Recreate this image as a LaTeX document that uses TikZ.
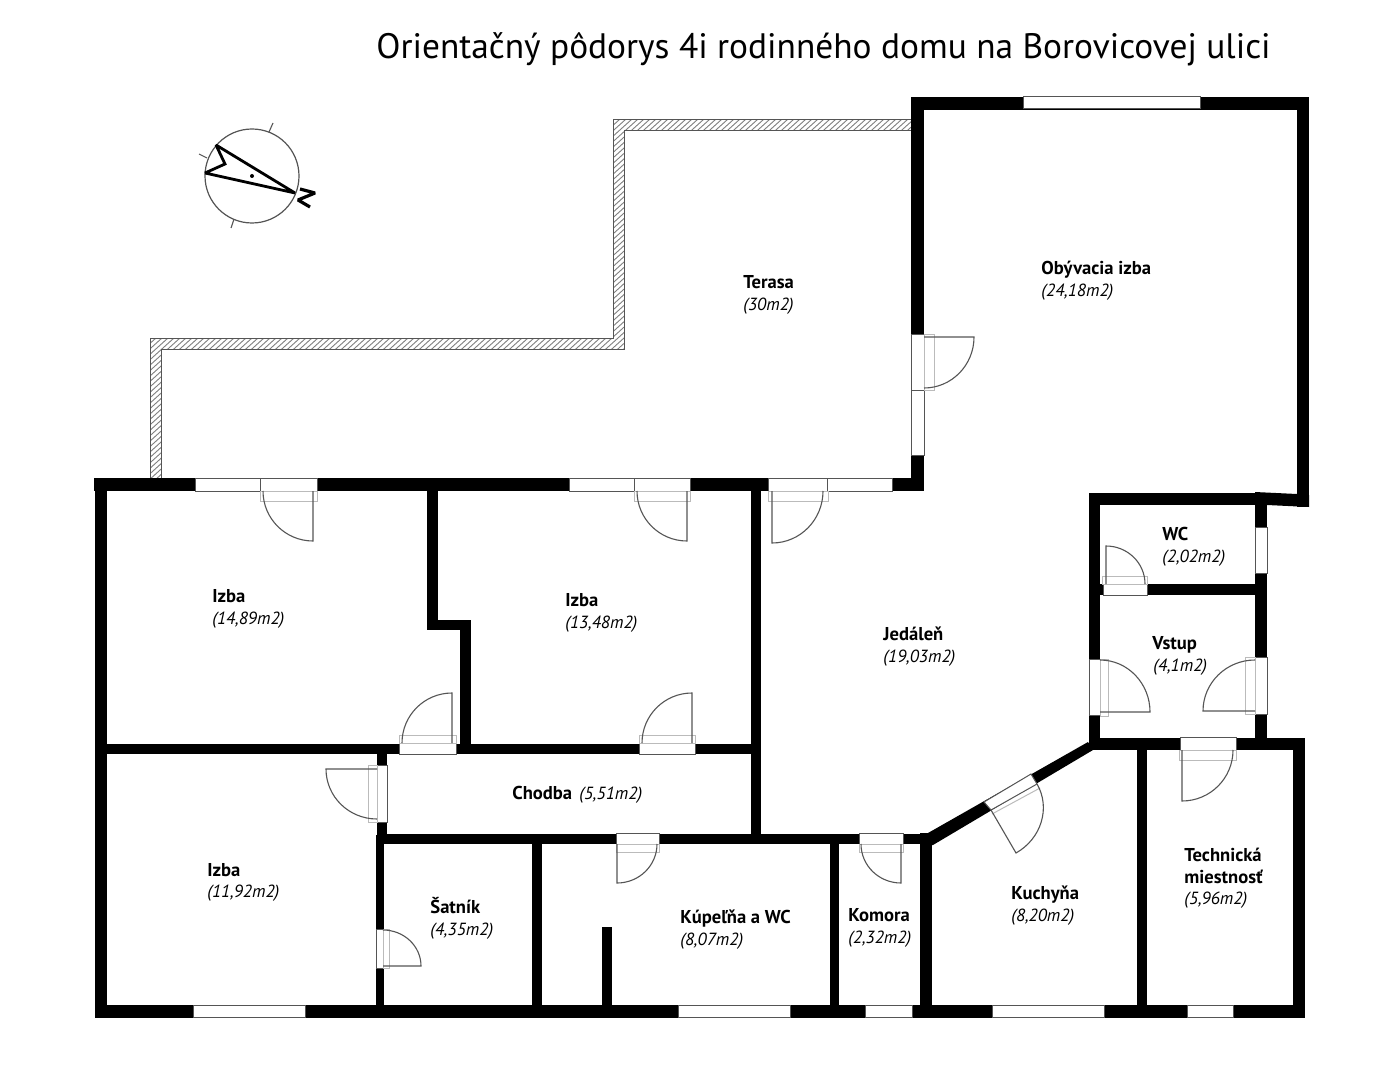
\documentclass[tikz,border=0pt]{standalone}
\usepackage{fontspec}
\setmainfont{PT Sans}
\definecolor{edge}{HTML}{555555}
\definecolor{ghost}{HTML}{BBBBBB}
\newcommand{\wallrect}[4]{\fill[wall] (#1,#2) rectangle (#3,#4);}
\newcommand{\winrect}[4]{\draw[winbox] (#1,#2) rectangle (#3,#4);}
\newcommand{\ghostrect}[4]{\draw[ghostbox] (#1,#2) rectangle (#3,#4);}
\newcommand{\doorleaf}[6]{\draw[doorline] (#1,#2) -- ({#1+#3},{#2+#4}) .. controls ({#1+#3+.5523*#5},{#2+#4+.5523*#6}) and ({#1+#5+.5523*#3},{#2+#6+.5523*#4}) .. ({#1+#5},{#2+#6});}
\tikzset{
  x=0.5pt,y=-0.5pt,
  wall/.style={fill=black},
  winbox/.style={draw=edge,line width=0.5pt,fill=white},
  ghostbox/.style={draw=ghost,line width=0.5pt},
  doorline/.style={draw=edge,line width=0.55pt},
  hatchline/.style={draw=gray,line width=0.45pt},
  roomtitle/.style={anchor=base west,inner sep=0pt,font=\fontsize{9.3}{11}\selectfont\bfseries},
  roomarea/.style={anchor=base west,inner sep=0pt,font=\fontsize{8.8}{11}\selectfont\itshape},
  headline/.style={anchor=base west,inner sep=0pt,font=\fontsize{17.68}{20}\selectfont},
}
\begin{document}
\begin{tikzpicture}
\useasboundingbox (0,0) rectangle (1400,1080);
\fill[white] (0,0) rectangle (1400,1080);
% terrace parapet
\begin{scope}
\clip (911,120) -- (613,120) -- (613,338) -- (150,338) -- (150,479) -- (161,479) -- (161,349) -- (624,349) -- (624,131) -- (911,131) -- cycle;
\foreach \k in {0,6,...,1300} { \draw[hatchline] ({-270+\k},490) -- ({-270+\k+420},110); }
\end{scope}
\draw[draw=edge,line width=0.5pt] (911,120) -- (613,120) -- (613,338) -- (150,338) -- (150,479) -- (161,479) -- (161,349) -- (624,349) -- (624,131) -- (911,131) -- cycle;
% outer walls
\wallrect{911}{97}{1309}{110}
\wallrect{911}{97}{924}{491}
\wallrect{1297}{97}{1309}{507}
\fill[wall] (1255,492) -- (1297,494) -- (1309,495) -- (1309,507) -- (1267,505) -- (1255,505) -- cycle;
\wallrect{94}{478}{924}{491}
\wallrect{95}{478}{107}{1018}
\wallrect{95}{1005}{1305}{1018}
\wallrect{1293}{738}{1305}{1018}
% inner walls
\wallrect{427}{491}{438}{630}
\wallrect{427}{620}{471}{630}
\wallrect{460}{620}{471}{754}
\wallrect{751}{491}{761}{844}
\wallrect{107}{744}{761}{754}
\wallrect{377}{754}{387}{835}
\wallrect{376}{835}{384}{1005}
\wallrect{377}{834}{932}{844}
\wallrect{532}{844}{542}{1005}
\wallrect{602}{927}{612}{1005}
\wallrect{830}{844}{839}{1005}
\wallrect{920}{834}{932}{1005}
\fill[wall] (920,833) -- (928,833) -- (1088,742) -- (1093,750) -- (933,845) -- (920,845) -- cycle;
\wallrect{1089}{493}{1100}{750}
\wallrect{1089}{493}{1267}{505}
\wallrect{1255}{493}{1267}{750}
\wallrect{1100}{584}{1255}{595}
\wallrect{1089}{738}{1305}{750}
\wallrect{1137}{750}{1147}{1005}
% windows
\winrect{1023}{97}{1200}{109}
\winrect{911}{334}{924}{455}
\winrect{911}{334}{924}{390}
\winrect{195}{478}{317}{491}
\winrect{260}{478}{317}{491}
\winrect{569}{478}{690}{491}
\winrect{634}{478}{690}{491}
\winrect{768}{478}{892}{491}
\winrect{768}{478}{827}{491}
\winrect{399}{743}{456}{754}
\winrect{639}{743}{695}{754}
\winrect{377}{765}{387}{822}
\winrect{376}{929}{383}{968}
\winrect{616}{833}{659}{844}
\winrect{859}{833}{903}{844}
\winrect{1103}{584}{1147}{595}
\winrect{1255}{527}{1267}{573}
\winrect{1089}{659}{1100}{715}
\winrect{1255}{657}{1267}{714}
\winrect{1180}{737}{1236}{750}
\winrect{193}{1005}{305}{1017}
\winrect{678}{1005}{790}{1017}
\winrect{865}{1005}{912}{1017}
\winrect{992}{1005}{1104}{1017}
\winrect{1187}{1005}{1233}{1017}
\draw[winbox] (984,802) -- (1031,774) -- (1037,784) -- (991,810) -- cycle;
% door swing shadows
\ghostrect{924}{334}{934}{390}
\ghostrect{260}{491}{317}{501}
\ghostrect{634}{491}{690}{501}
\ghostrect{768}{491}{828}{501}
\ghostrect{399}{735}{456}{743}
\ghostrect{639}{735}{695}{743}
\ghostrect{368}{765}{377}{822}
\ghostrect{383}{929}{389}{968}
\ghostrect{616}{844}{659}{852}
\ghostrect{859}{844}{903}{852}
\ghostrect{1102}{576}{1147}{584}
\ghostrect{1100}{659}{1108}{716}
\ghostrect{1245}{657}{1255}{714}
\ghostrect{1179}{750}{1236}{760}
\draw[ghostbox] (992,814) -- (1040,788);
% doors
\doorleaf{924}{337}{50}{0}{0}{51}
\doorleaf{313}{491}{0}{50}{-50}{0}
\doorleaf{687}{491}{0}{50}{-50}{0}
\doorleaf{772}{491}{0}{52}{51}{0}
\doorleaf{452}{743}{0}{-50}{-50}{0}
\doorleaf{692}{743}{0}{-50}{-50}{0}
\doorleaf{377}{769}{-51}{0}{0}{50}
\doorleaf{617}{844}{0}{39}{40}{0}
\doorleaf{901}{844}{0}{39}{-40}{0}
\doorleaf{383}{966}{38}{0}{0}{-36}
\doorleaf{1106}{584}{0}{-38}{39}{0}
\doorleaf{1100}{712}{50}{0}{0}{-52}
\doorleaf{1255}{711}{-52}{0}{0}{-51}
\doorleaf{1182}{750}{0}{51}{51}{0}
\doorleaf{991}{810}{25}{43}{46}{-26}
% compass
\draw[draw=edge,line width=0.6pt] (252,176) circle [radius=47];
\draw[draw=edge,line width=0.55pt] (269,132) -- (273,123);
\draw[draw=edge,line width=0.55pt] (207,158) -- (199,154);
\draw[draw=edge,line width=0.55pt] (234,219) -- (231,228);
\draw[black,line width=1.4pt,line join=miter,miter limit=2.2] (216,145) -- (295,193) -- (205,173) -- (225,164) -- cycle;
\fill (252,176) circle [radius=2];
\draw[black,line width=1.6pt,line join=miter,miter limit=2] (300,189) -- (315,193) -- (298,200) -- (310,207);
% texts
\node[headline] (title) at (376,59) {Orientačný pôdorys 4i rodinného domu na Borovicovej ulici};
\node[roomtitle] (t1) at (743,289) {Terasa};
\node[roomarea] (a1) at (743,310) {(30m2)};
\node[roomtitle] (t2) at (1041,275) {Obývacia izba};
\node[roomarea] (a2) at (1041,297) {(24,18m2)};
\node[roomtitle] (t3) at (212,602) {Izba};
\node[roomarea] (a3) at (212,624) {(14,89m2)};
\node[roomtitle] (t4) at (565,606) {Izba};
\node[roomarea] (a4) at (565,628) {(13,48m2)};
\node[roomtitle] (t5) at (883,640) {Jedáleň};
\node[roomarea] (a5) at (883,662) {(19,03m2)};
\node[roomtitle] (t6) at (1162,540) {WC};
\node[roomarea] (a6) at (1162,562) {(2,02m2)};
\node[roomtitle] (t7) at (1152,649) {Vstup};
\node[roomarea] (a7) at (1153,671) {(4,1m2)};
\node[roomtitle] (t8) at (512,799) {Chodba};
\node[roomarea] (a8) at (579,799) {(5,51m2)};
\node[roomtitle] (t9) at (207,876) {Izba};
\node[roomarea] (a9) at (207,897) {(11,92m2)};
\node[roomtitle] (t10) at (430,913) {Šatník};
\node[roomarea] (a10) at (430,935) {(4,35m2)};
\node[roomtitle] (t11) at (680,923) {Kúpeľňa a WC};
\node[roomarea] (a11) at (680,945) {(8,07m2)};
\node[roomtitle] (t12) at (848,921) {Komora};
\node[roomarea] (a12) at (848,943) {(2,32m2)};
\node[roomtitle] (t13) at (1011,899) {Kuchyňa};
\node[roomarea] (a13) at (1011,921) {(8,20m2)};
\node[roomtitle] (t14) at (1184,861) {Technická};
\node[roomtitle] (t15) at (1184,883) {miestnosť};
\node[roomarea] (a14) at (1184,904) {(5,96m2)};
\end{tikzpicture}
\end{document}
